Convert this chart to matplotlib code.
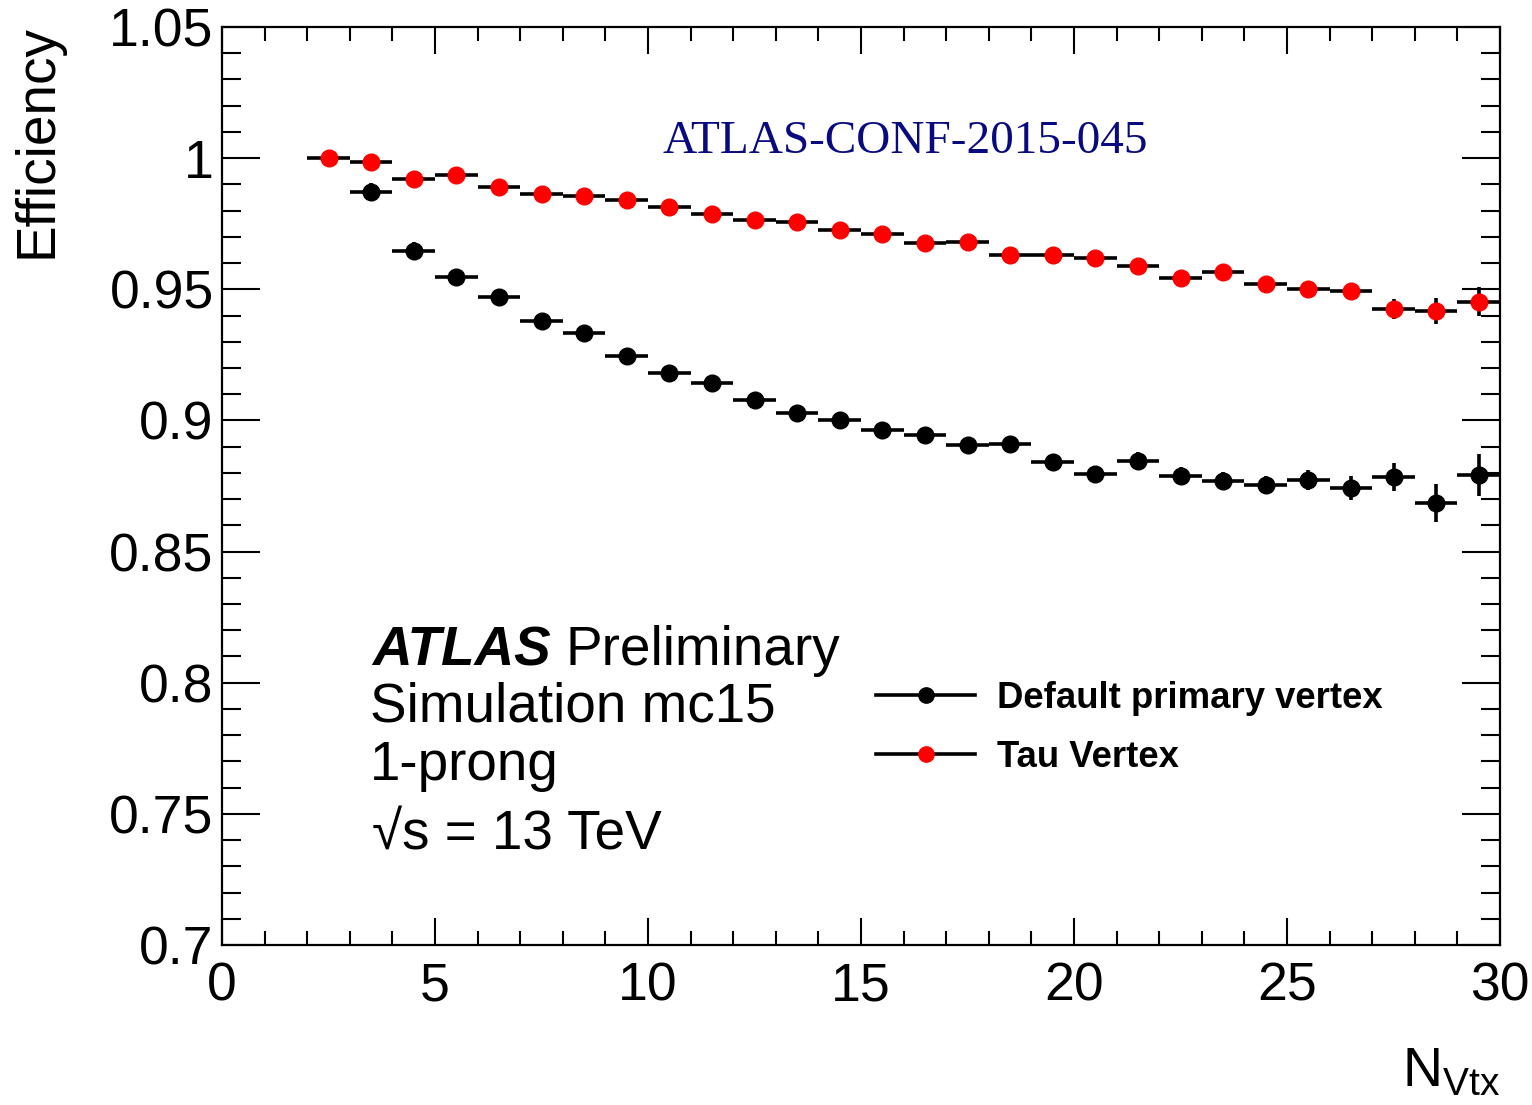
import matplotlib
matplotlib.use("Agg")
import matplotlib.pyplot as plt
from matplotlib.lines import Line2D
from matplotlib.ticker import MultipleLocator

# Data
nvtx_red = [2.5, 3.5, 4.5, 5.5, 6.5, 7.5, 8.5, 9.5, 10.5, 11.5, 12.5, 13.5, 14.5, 15.5,
            16.5, 17.5, 18.5, 19.5, 20.5, 21.5, 22.5, 23.5, 24.5, 25.5, 26.5, 27.5, 28.5, 29.5]
eff_tau = [1.0000, 0.9985, 0.9919, 0.9936, 0.9890, 0.9863, 0.9856, 0.9840, 0.9814, 0.9787,
           0.9764, 0.9757, 0.9726, 0.9711, 0.9676, 0.9680, 0.9631, 0.9631, 0.9619, 0.9589,
           0.9543, 0.9566, 0.9520, 0.9501, 0.9493, 0.9425, 0.9417, 0.9452]
err_tau = [0.0005, 0.0008, 0.0010, 0.0010, 0.0010, 0.0011, 0.0012, 0.0012, 0.0013, 0.0014,
           0.0015, 0.0016, 0.0017, 0.0018, 0.0019, 0.0020, 0.0021, 0.0022, 0.0023, 0.0024,
           0.0025, 0.0026, 0.0028, 0.0030, 0.0032, 0.0037, 0.0048, 0.0055]

nvtx_black = [3.5, 4.5, 5.5, 6.5, 7.5, 8.5, 9.5, 10.5, 11.5, 12.5, 13.5, 14.5, 15.5,
              16.5, 17.5, 18.5, 19.5, 20.5, 21.5, 22.5, 23.5, 24.5, 25.5, 26.5, 27.5, 28.5, 29.5]
eff_default = [0.9871, 0.9646, 0.9547, 0.9471, 0.9379, 0.9335, 0.9246, 0.9181, 0.9143,
               0.9078, 0.9028, 0.9002, 0.8964, 0.8944, 0.8906, 0.8910, 0.8842, 0.8796,
               0.8845, 0.8788, 0.8769, 0.8754, 0.8773, 0.8742, 0.8784, 0.8685, 0.8792]
err_default = [0.0036, 0.0036, 0.0020, 0.0020, 0.0020, 0.0021, 0.0021, 0.0022, 0.0023,
               0.0024, 0.0025, 0.0026, 0.0027, 0.0028, 0.0029, 0.0030, 0.0031, 0.0032,
               0.0033, 0.0034, 0.0035, 0.0036, 0.0038, 0.0046, 0.0054, 0.0071, 0.0081]
bin_half = 0.5

plt.rcParams['font.family'] = ['Liberation Sans', 'DejaVu Sans']

fig = plt.figure(figsize=(15.32, 11.05), dpi=100)
ax = fig.add_axes([222/1532, 1-945/1105, (1500-222)/1532, (945-27)/1105])

ax.errorbar(nvtx_black, eff_default, yerr=err_default, xerr=bin_half, fmt='o',
            color='black', markersize=12, elinewidth=2.6, capsize=0, zorder=3)
ax.errorbar(nvtx_red, eff_tau, yerr=err_tau, xerr=bin_half, fmt='o',
            color='black', mfc='red', mec='red', markersize=12, elinewidth=2.6,
            capsize=0, zorder=4)

ax.set_xlim(0, 30)
ax.set_ylim(0.7, 1.05)
ax.xaxis.set_minor_locator(MultipleLocator(1))
ax.yaxis.set_minor_locator(MultipleLocator(0.01))
ax.set_xticks([0, 5, 10, 15, 20, 25, 30])
ax.set_xticklabels(['0', '5', '10', '15', '20', '25', '30'])
ax.set_yticks([0.7, 0.75, 0.8, 0.85, 0.9, 0.95, 1.0, 1.05])
ax.set_yticklabels(['0.7', '0.75', '0.8', '0.85', '0.9', '0.95', '1', '1.05'])

for s in ax.spines.values():
    s.set_linewidth(1.6)
ax.tick_params(axis='both', which='both', direction='in', top=True, right=True,
               width=1.5, labelsize=38.5)
ax.tick_params(axis='x', which='major', length=19.5, pad=12)
ax.tick_params(axis='x', which='minor', length=10)
ax.tick_params(axis='y', which='major', length=27.5, pad=6)
ax.tick_params(axis='y', which='minor', length=14)

fig.text(38/1532, 1-24/1105, 'Efficiency', rotation=90, ha='center', va='top', fontsize=39.5)
fig.text(1500/1532, 1-1086/1105, r'N$_{\mathregular{Vtx}}$', ha='right', va='baseline',
         fontsize=40)

fig.text(905/1532, 1-153/1105, 'ATLAS-CONF-2015-045', ha='center', va='baseline',
         fontsize=34, family='Liberation Serif', color='#0a0a80')

fig.text(372/1532, 1-665/1105, 'ATLAS', ha='left', va='baseline', fontsize=39.5,
         fontweight='bold', fontstyle='italic')
fig.text(566/1532, 1-665/1105, 'Preliminary', ha='left', va='baseline', fontsize=39.5)
fig.text(370/1532, 1-722/1105, 'Simulation mc15', ha='left', va='baseline', fontsize=39.5)
fig.text(370/1532, 1-780/1105, '1-prong', ha='left', va='baseline', fontsize=39.5)
fig.text(372/1532, 1-850/1105, '\u221as = 13 TeV', ha='left', va='baseline', fontsize=39.5)

handles = [Line2D([], [], color='black', lw=2.6, marker='o', markersize=11,
                  mfc='black', mec='black'),
           Line2D([], [], color='black', lw=2.6, marker='o', markersize=11,
                  mfc='red', mec='red')]
leg = ax.legend(handles, ['Default primary vertex', 'Tau Vertex'],
                loc='upper left', bbox_to_anchor=(847/1532, 1-652/1105),
                bbox_transform=fig.transFigure, frameon=False,
                prop={'weight': 'bold', 'size': 26.3}, handlelength=2.7,
                handletextpad=0.6, labelspacing=0.64, borderpad=0.3)

fig.savefig('out.png', dpi=100)
